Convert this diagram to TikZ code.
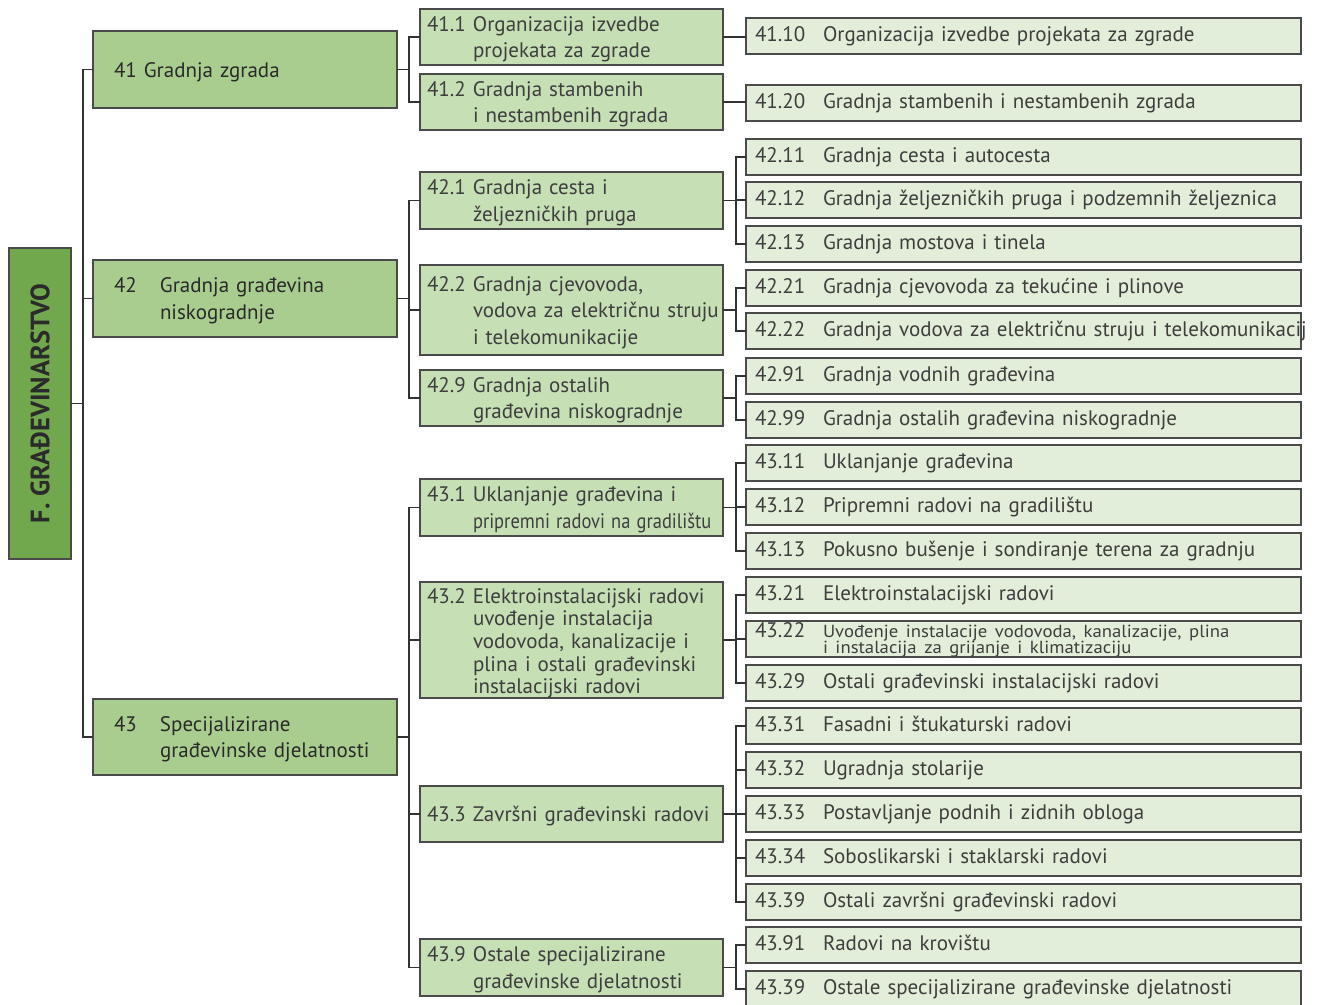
\documentclass[tikz,border=0pt]{standalone}
\usepackage{fontspec}
\setmainfont{PT Sans}
\usetikzlibrary{calc}
\definecolor{g0}{HTML}{72A84D}
\definecolor{g1}{HTML}{A9CD8F}
\definecolor{g2}{HTML}{C6DFB5}
\definecolor{g3}{HTML}{E2EED9}
\definecolor{bord}{HTML}{4A4A4A}
\definecolor{txt}{HTML}{3E3E3E}
\definecolor{txtdark}{HTML}{2A2A2A}
\definecolor{line}{HTML}{333333}
\newcommand\fst{\rule{0pt}{19.5pt}}
\newcommand\ind{\hspace*{46pt}}
\begin{document}
\begin{tikzpicture}[x=1pt,y=-1pt,
  base/.style={draw=bord, line width=1.8pt, anchor=north west, inner ysep=0pt, outer sep=0pt,
    align=left, text=txt, font=\fontsize{21}{26.5}\selectfont},
  rootbox/.style={base, anchor=center, fill=g0, rotate=90, minimum width=311, minimum height=62,
    align=center, text=txtdark, font=\fontsize{26.5}{30}\selectfont\bfseries},
  lone/.style={base, fill=g1, text=txtdark, inner xsep=21, text width=262, minimum height=#1},
  ltwo/.style={base, fill=g2, inner xsep=7, text width=289, minimum height=#1},
  lthree/.style={base, fill=g3, inner xsep=9, text width=537, minimum height=36, text height=15, text depth=3.5},
  oneline/.style={text height=15, text depth=0},
  conn/.style={draw=line, line width=1.4pt}
]
\useasboundingbox (0,0) rectangle (1325,1004);

% root
\node[rootbox] (root) at (40,403.5) {F. GRAĐEVINARSTVO};

% level 1
\node[lone=77, oneline] (n41) at (93,31) {\mbox{41 Gradnja zgrada}};
\node[lone=77] (n42) at (93,260) {\fst\makebox[46pt][l]{42}\mbox{Gradnja građevina}\\\ind\mbox{niskogradnje}};
\node[lone=76] (n43) at (93,699) {\fst\makebox[46pt][l]{43}\mbox{Specijalizirane}\\\ind\mbox{građevinske djelatnosti}};

% level 2
\newcommand\twol[3]{\fst\makebox[46pt][l]{#1}\mbox{#2}\\\ind\mbox{#3}}
\node[ltwo=56] (n411) at (420,9) {\twol{41.1}{Organizacija izvedbe}{projekata za zgrade}};
\node[ltwo=56] (n412) at (420,74) {\twol{41.2}{Gradnja stambenih}{i nestambenih zgrada}};
\node[ltwo=57] (n421) at (420,172) {\twol{42.1}{Gradnja cesta i}{željezničkih pruga}};
\node[ltwo=90] (n422) at (420,265) {\fst\makebox[46pt][l]{42.2}\mbox{Gradnja cjevovoda,}\\\ind\mbox{vodova za električnu struju}\\\ind\mbox{i telekomunikacije}};
\node[ltwo=56] (n429) at (420,370) {\twol{42.9}{Gradnja ostalih}{građevina niskogradnje}};
\node[ltwo=57] (n431) at (420,479) {\twol{43.1}{Uklanjanje građevina i}{\scalebox{0.88}[1]{pripremni radovi na gradilištu}}};
\node[ltwo=114, font=\fontsize{21}{22.7}\selectfont] (n432) at (420,582) {\rule{0pt}{21pt}\makebox[46pt][l]{43.2}\mbox{Elektroinstalacijski radovi}\\\ind\mbox{uvođenje instalacija}\\\ind\mbox{vodovoda, kanalizacije i}\\\ind\mbox{plina i ostali građevinski}\\\ind\mbox{instalacijski radovi}};
\node[ltwo=56, oneline] (n433) at (420,786) {\makebox[46pt][l]{43.3}\mbox{Završni građevinski radovi}};
\node[ltwo=57] (n439) at (420,939) {\twol{43.9}{Ostale specijalizirane}{građevinske djelatnosti}};

% level 3
\newcommand\thr[4]{\node[lthree] (#1) at (746,#2) {\makebox[68pt][l]{#3}\mbox{#4}};}
\thr{n4110}{18}{41.10}{Organizacija izvedbe projekata za zgrade}
\thr{n4120}{85}{41.20}{Gradnja stambenih i nestambenih zgrada}
\thr{n4211}{139}{42.11}{Gradnja cesta i autocesta}
\thr{n4212}{182}{42.12}{Gradnja željezničkih pruga i podzemnih željeznica}
\thr{n4213}{226}{42.13}{Gradnja mostova i tinela}
\thr{n4221}{270}{42.21}{Gradnja cjevovoda za tekućine i plinove}
\thr{n4222}{313}{42.22}{Gradnja vodova za električnu struju i telekomunikacij}
\thr{n4291}{358}{42.91}{Gradnja vodnih građevina}
\thr{n4299}{402}{42.99}{Gradnja ostalih građevina niskogradnje}
\thr{n4311}{445}{43.11}{Uklanjanje građevina}
\thr{n4312}{489}{43.12}{Pripremni radovi na gradilištu}
\thr{n4313}{533}{43.13}{Pokusno bušenje i sondiranje terena za gradnju}
\thr{n4321}{577}{43.21}{Elektroinstalacijski radovi}
\node[lthree, text height=16, text depth=20] (n4322) at (746,621) {\makebox[68pt][l]{43.22}\scalebox{1.07}[1]{\fontsize{17.5}{17}\selectfont\begin{tabular}[t]{@{}l@{}}Uvođenje instalacije vodovoda, kanalizacije, plina\\[-0.5pt]i instalacija za grijanje i klimatizaciju\end{tabular}}};
\thr{n4329}{665}{43.29}{Ostali građevinski instalacijski radovi}
\thr{n4331}{708}{43.31}{Fasadni i štukaturski radovi}
\thr{n4332}{752}{43.32}{Ugradnja stolarije}
\thr{n4333}{796}{43.33}{Postavljanje podnih i zidnih obloga}
\thr{n4334}{840}{43.34}{Soboslikarski i staklarski radovi}
\thr{n4339}{884}{43.39}{Ostali završni građevinski radovi}
\thr{n4391}{927}{43.91}{Radovi na krovištu}
\thr{n4399}{971}{43.39}{Ostale specijalizirane građevinske djelatnosti}

% bus coordinates
\coordinate (b1) at (83,0);
\coordinate (b2) at (409,0);
\coordinate (b3) at (736,0);

% root -> level 1
\draw[conn] (root.south) -- (root.south -| b1);
\draw[conn] (n41.west) -- (n41.west -| b1) -- (n43.west -| b1) -- (n43.west);
\draw[conn] (n42.west) -- (n42.west -| b1);

% level 1 -> level 2
\draw[conn] (n41.east) -- (n41.east -| b2);
\draw[conn] (n411.west) -- (n411.west -| b2) -- (n412.west -| b2) -- (n412.west);
\draw[conn] (n42.east) -- (n42.east -| b2);
\draw[conn] (n421.west) -- (n421.west -| b2) -- (n429.west -| b2) -- (n429.west);
\draw[conn] (n422.west) -- (n422.west -| b2);
\draw[conn] (n43.east) -- (n43.east -| b2);
\draw[conn] (n431.west) -- (n431.west -| b2) -- (n439.west -| b2) -- (n439.west);
\draw[conn] (n432.west) -- (n432.west -| b2);
\draw[conn] (n433.west) -- (n433.west -| b2);

% level 2 -> level 3
\draw[conn] (n411.east) -- (n411.east -| n4110.west);
\draw[conn] (n412.east) -- (n412.east -| n4120.west);
\draw[conn] (n421.east) -- (n421.east -| b3);
\draw[conn] (n4211.west) -- (n4211.west -| b3) -- (n4213.west -| b3) -- (n4213.west);
\draw[conn] (n4212.west) -- (n4212.west -| b3);
\draw[conn] (n422.east) -- (n422.east -| b3);
\draw[conn] (n4221.west) -- (n4221.west -| b3) -- (n4222.west -| b3) -- (n4222.west);
\draw[conn] (n429.east) -- (n429.east -| b3);
\draw[conn] (n4291.west) -- (n4291.west -| b3) -- (n4299.west -| b3) -- (n4299.west);
\draw[conn] (n431.east) -- (n431.east -| b3);
\draw[conn] (n4311.west) -- (n4311.west -| b3) -- (n4313.west -| b3) -- (n4313.west);
\draw[conn] (n4312.west) -- (n4312.west -| b3);
\draw[conn] (n432.east) -- (n432.east -| b3);
\draw[conn] (n4321.west) -- (n4321.west -| b3) -- (n4329.west -| b3) -- (n4329.west);
\draw[conn] (n4322.west) -- (n4322.west -| b3);
\draw[conn] (n433.east) -- (n433.east -| b3);
\draw[conn] (n4331.west) -- (n4331.west -| b3) -- (n4339.west -| b3) -- (n4339.west);
\draw[conn] (n4332.west) -- (n4332.west -| b3);
\draw[conn] (n4333.west) -- (n4333.west -| b3);
\draw[conn] (n4334.west) -- (n4334.west -| b3);
\draw[conn] (n439.east) -- (n439.east -| b3);
\draw[conn] (n4391.west) -- (n4391.west -| b3) -- (n4399.west -| b3) -- (n4399.west);
\end{tikzpicture}
\end{document}
